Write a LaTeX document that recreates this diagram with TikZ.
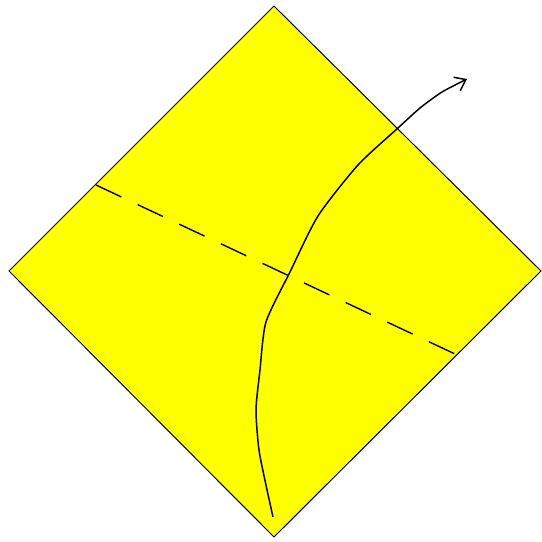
\documentclass[tikz,border=0pt]{standalone}
\usetikzlibrary{arrows.meta}
\definecolor{paper}{RGB}{255,255,0}
\tikzset{
  edge/.style={draw=black, line width=1pt, fill=paper, line join=miter},
  foldline/.style={draw=black, line width=1.4pt, dash pattern=on 28pt off 18pt},
  pathline/.style={draw=black, line width=1.5pt, line join=round, -{Straight Barb[length=10pt,width=15pt,line width=1.5pt]}}
}
\begin{document}
\begin{tikzpicture}[x=1pt,y=-1pt]
\useasboundingbox (0,0) rectangle (542,542);
\coordinate (T) at (274,6);
\coordinate (L) at (9,271);
\coordinate (R) at (541,271);
\coordinate (B) at (274,537);
\path[edge] (T) -- (R) -- (B) -- (L) -- cycle;
\coordinate (d1) at (96,185);
\coordinate (d2) at (455,354);
\draw[foldline] (d1) -- (d2);
\draw[pathline] plot[smooth, tension=0.4] coordinates {(273,517) (266,485) (259,450) (256,410) (260,370) (266,322) (290,272) (318,216) (358,165) (398,128) (420,108) (442,92) (467,79)};
\end{tikzpicture}
\end{document}
